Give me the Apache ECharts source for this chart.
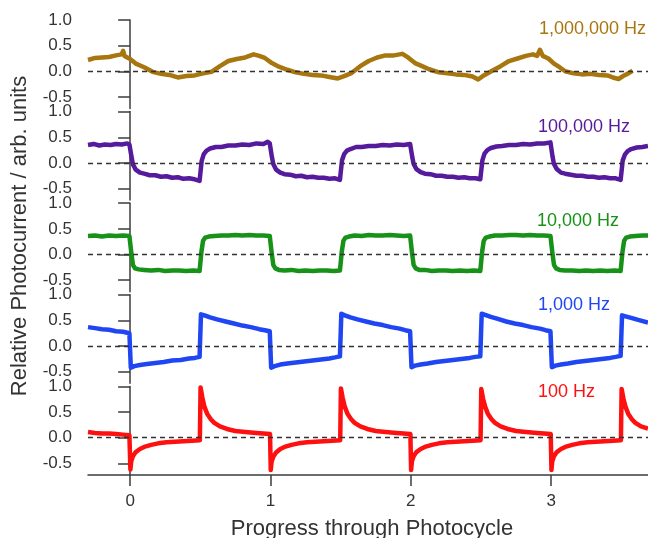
<!DOCTYPE html>
<html>
<head>
<meta charset="utf-8">
<script src="https://cdn.jsdelivr.net/npm/echarts@6/dist/echarts.min.js"></script>
<style>html,body{margin:0;padding:0;background:#fff;}#c{width:648px;height:538px;}</style>
</head>
<body>
<div id="c"></div>
<script>
// ---- data (x = progress through photocycle, y = relative photocurrent) ----
var panelLabels = ['1,000,000 Hz', '100,000 Hz', '10,000 Hz', '1,000 Hz', '100 Hz'];
var xTicks = [0, 1, 2, 3];
var yTicks = [-0.5, 0, 0.5, 1.0];

var trace1M = [
[-0.3,0.22],[-0.25,0.26],[-0.2,0.27],[-0.15,0.28],[-0.1,0.31],[-0.06,0.33],[-0.05,0.40],[-0.04,0.30],[0,0.24],[0.04,0.15],[0.1,0.08],[0.16,-0.01],[0.22,-0.05],[0.28,-0.07],[0.34,-0.12],[0.4,-0.09],[0.46,-0.08],[0.52,-0.04],[0.58,-0.01],[0.64,0.1],[0.7,0.2],[0.76,0.24],[0.82,0.27],[0.88,0.33],[0.92,0.30],[0.96,0.26],[1.01,0.16],[1.06,0.09],[1.12,0.03],[1.18,-0.02],[1.24,-0.05],[1.3,-0.07],[1.36,-0.08],[1.42,-0.11],[1.48,-0.14],[1.53,-0.09],[1.58,-0.03],[1.64,0.10],[1.7,0.2],[1.76,0.27],[1.82,0.31],[1.88,0.31],[1.94,0.34],[1.98,0.27],[2.03,0.16],[2.08,0.1],[2.13,0.04],[2.2,-0.02],[2.26,-0.04],[2.32,-0.06],[2.38,-0.07],[2.44,-0.1],[2.48,-0.16],[2.52,-0.08],[2.58,0.01],[2.64,0.10],[2.7,0.20],[2.76,0.25],[2.82,0.3],[2.87,0.33],[2.9,0.30],[2.92,0.42],[2.94,0.30],[2.98,0.25],[3.02,0.15],[3.06,0.08],[3.1,0.0],[3.16,-0.04],[3.22,-0.06],[3.28,-0.05],[3.34,-0.07],[3.4,-0.08],[3.44,-0.12],[3.48,-0.15],[3.52,-0.08],[3.55,-0.04],[3.58,0.01]
];

var trace100k = [
[-0.3,0.35],[-0.26,0.37],[-0.22,0.34],[-0.18,0.36],[-0.14,0.35],[-0.1,0.37],[-0.06,0.36],[-0.02,0.38],[-0.005,0.36],
[0.01,0.12],[0.02,-0.03],[0.04,-0.13],[0.07,-0.19],[0.1,-0.21],[0.14,-0.24],[0.18,-0.24],[0.22,-0.27],[0.26,-0.26],[0.3,-0.29],[0.34,-0.28],[0.38,-0.31],[0.42,-0.3],[0.46,-0.32],[0.495,-0.35],
[0.51,0.04],[0.525,0.17],[0.545,0.24],[0.57,0.28],[0.61,0.31],[0.65,0.31],[0.7,0.34],[0.75,0.34],[0.8,0.36],[0.85,0.35],[0.9,0.38],[0.95,0.37],[0.98,0.41],[0.995,0.38],
[1.01,0.12],[1.02,-0.02],[1.04,-0.13],[1.07,-0.19],[1.1,-0.22],[1.14,-0.23],[1.18,-0.26],[1.22,-0.25],[1.26,-0.28],[1.3,-0.27],[1.34,-0.29],[1.38,-0.29],[1.42,-0.31],[1.46,-0.3],[1.495,-0.33],
[1.51,0.05],[1.525,0.17],[1.545,0.24],[1.57,0.27],[1.61,0.31],[1.65,0.31],[1.7,0.33],[1.75,0.33],[1.8,0.35],[1.85,0.34],[1.9,0.36],[1.95,0.35],[1.995,0.37],
[2.01,0.12],[2.02,-0.02],[2.04,-0.12],[2.07,-0.18],[2.1,-0.21],[2.14,-0.22],[2.18,-0.25],[2.22,-0.25],[2.26,-0.27],[2.3,-0.27],[2.34,-0.29],[2.38,-0.28],[2.42,-0.3],[2.46,-0.3],[2.495,-0.32],
[2.51,0.05],[2.525,0.18],[2.545,0.25],[2.57,0.29],[2.61,0.32],[2.65,0.33],[2.7,0.35],[2.75,0.35],[2.8,0.37],[2.85,0.36],[2.9,0.38],[2.95,0.38],[2.995,0.4],
[3.01,0.12],[3.02,-0.02],[3.04,-0.12],[3.07,-0.19],[3.1,-0.21],[3.14,-0.23],[3.18,-0.25],[3.22,-0.25],[3.26,-0.27],[3.3,-0.27],[3.34,-0.29],[3.38,-0.28],[3.42,-0.3],[3.46,-0.3],[3.495,-0.33],
[3.51,0.05],[3.525,0.16],[3.545,0.23],[3.57,0.27],[3.61,0.3],[3.65,0.31],[3.69,0.33]
];

var trace10k = [
[-0.3,0.36],[-0.25,0.37],[-0.2,0.35],[-0.15,0.37],[-0.1,0.36],[-0.05,0.37],[-0.005,0.36],
[0.008,0.05],[0.02,-0.2],[0.035,-0.27],[0.06,-0.29],[0.1,-0.3],[0.15,-0.31],[0.2,-0.3],[0.25,-0.32],[0.3,-0.31],[0.35,-0.31],[0.4,-0.32],[0.45,-0.31],[0.495,-0.32],
[0.508,0.05],[0.52,0.27],[0.535,0.33],[0.56,0.35],[0.6,0.36],[0.65,0.37],[0.7,0.37],[0.75,0.38],[0.8,0.37],[0.85,0.38],[0.9,0.37],[0.95,0.37],[0.995,0.36],
[1.008,0.05],[1.02,-0.2],[1.035,-0.27],[1.06,-0.3],[1.1,-0.31],[1.15,-0.3],[1.2,-0.32],[1.25,-0.31],[1.3,-0.32],[1.35,-0.31],[1.4,-0.31],[1.45,-0.32],[1.495,-0.31],
[1.508,0.05],[1.52,0.27],[1.535,0.33],[1.56,0.35],[1.6,0.37],[1.65,0.36],[1.7,0.38],[1.75,0.37],[1.8,0.37],[1.85,0.38],[1.9,0.37],[1.95,0.36],[1.995,0.37],
[2.008,0.05],[2.02,-0.2],[2.035,-0.27],[2.06,-0.3],[2.1,-0.3],[2.15,-0.32],[2.2,-0.31],[2.25,-0.31],[2.3,-0.32],[2.35,-0.31],[2.4,-0.32],[2.45,-0.31],[2.495,-0.32],
[2.508,0.05],[2.52,0.27],[2.535,0.33],[2.56,0.35],[2.6,0.37],[2.65,0.37],[2.7,0.38],[2.75,0.38],[2.8,0.37],[2.85,0.38],[2.9,0.37],[2.95,0.37],[2.995,0.36],
[3.008,0.05],[3.02,-0.2],[3.035,-0.27],[3.06,-0.3],[3.1,-0.31],[3.15,-0.31],[3.2,-0.32],[3.25,-0.31],[3.3,-0.32],[3.35,-0.31],[3.4,-0.32],[3.45,-0.31],[3.495,-0.32],
[3.508,0.05],[3.52,0.27],[3.535,0.33],[3.56,0.35],[3.6,0.36],[3.65,0.37],[3.69,0.37]
];

var trace1k = [
[-0.3,0.37],[-0.25,0.35],[-0.2,0.33],[-0.15,0.32],[-0.1,0.29],[-0.05,0.28],[-0.005,0.25],
[0.005,-0.42],[0.03,-0.39],[0.07,-0.37],[0.12,-0.35],[0.18,-0.33],[0.24,-0.31],[0.3,-0.28],[0.36,-0.27],[0.42,-0.24],[0.46,-0.23],[0.495,-0.21],
[0.505,0.62],[0.53,0.6],[0.57,0.56],[0.62,0.52],[0.68,0.48],[0.74,0.44],[0.8,0.4],[0.86,0.37],[0.92,0.33],[0.96,0.31],[0.995,0.29],
[1.005,-0.42],[1.03,-0.39],[1.07,-0.36],[1.12,-0.34],[1.18,-0.32],[1.24,-0.3],[1.3,-0.28],[1.36,-0.26],[1.42,-0.24],[1.46,-0.22],[1.495,-0.2],
[1.505,0.63],[1.53,0.6],[1.57,0.56],[1.62,0.52],[1.68,0.48],[1.74,0.44],[1.8,0.41],[1.86,0.37],[1.92,0.34],[1.96,0.31],[1.995,0.29],
[2.005,-0.41],[2.03,-0.38],[2.07,-0.36],[2.12,-0.34],[2.18,-0.31],[2.24,-0.29],[2.3,-0.27],[2.36,-0.25],[2.42,-0.23],[2.46,-0.21],[2.495,-0.2],
[2.505,0.63],[2.53,0.61],[2.57,0.57],[2.62,0.53],[2.68,0.48],[2.74,0.44],[2.8,0.41],[2.86,0.37],[2.92,0.34],[2.96,0.31],[2.995,0.29],
[3.005,-0.41],[3.03,-0.38],[3.07,-0.36],[3.12,-0.34],[3.18,-0.31],[3.24,-0.29],[3.3,-0.27],[3.36,-0.25],[3.42,-0.23],[3.46,-0.21],[3.495,-0.19],
[3.505,0.6],[3.53,0.58],[3.57,0.55],[3.62,0.51],[3.69,0.46]
];

var trace100 = [
[-0.3,0.11],[-0.25,0.09],[-0.2,0.08],[-0.15,0.08],[-0.1,0.07],[-0.05,0.06],[-0.005,0.05],
[0.002,-0.62],[0.008,-0.46],[0.02,-0.36],[0.04,-0.28],[0.07,-0.22],[0.1,-0.18],[0.15,-0.14],[0.2,-0.11],[0.26,-0.09],[0.32,-0.08],[0.38,-0.07],[0.44,-0.06],[0.497,-0.05],
[0.502,0.98],[0.515,0.78],[0.53,0.6],[0.55,0.46],[0.575,0.36],[0.6,0.29],[0.64,0.22],[0.69,0.17],[0.75,0.13],[0.82,0.11],[0.9,0.09],[0.997,0.07],
[1.002,-0.63],[1.008,-0.47],[1.02,-0.37],[1.04,-0.29],[1.07,-0.22],[1.1,-0.18],[1.15,-0.14],[1.2,-0.11],[1.26,-0.09],[1.32,-0.08],[1.38,-0.07],[1.44,-0.06],[1.497,-0.05],
[1.502,0.96],[1.515,0.77],[1.53,0.6],[1.55,0.46],[1.575,0.36],[1.6,0.29],[1.64,0.22],[1.69,0.17],[1.75,0.13],[1.82,0.11],[1.9,0.09],[1.997,0.07],
[2.002,-0.63],[2.008,-0.46],[2.02,-0.36],[2.04,-0.28],[2.07,-0.22],[2.1,-0.18],[2.15,-0.14],[2.2,-0.11],[2.26,-0.09],[2.32,-0.08],[2.38,-0.07],[2.44,-0.06],[2.497,-0.05],
[2.502,0.95],[2.515,0.76],[2.53,0.6],[2.55,0.46],[2.575,0.36],[2.6,0.29],[2.64,0.22],[2.69,0.17],[2.75,0.13],[2.82,0.11],[2.9,0.09],[2.997,0.07],
[3.002,-0.63],[3.008,-0.46],[3.02,-0.36],[3.04,-0.28],[3.07,-0.22],[3.1,-0.18],[3.15,-0.14],[3.2,-0.11],[3.26,-0.09],[3.32,-0.08],[3.38,-0.07],[3.44,-0.06],[3.497,-0.05],
[3.502,0.95],[3.515,0.76],[3.53,0.6],[3.55,0.46],[3.575,0.36],[3.6,0.29],[3.64,0.22],[3.69,0.18]
];

var traces = [trace1M, trace100k, trace10k, trace1k, trace100];
var colors = ['#a8760f', '#561a9c', '#179117', '#1f46f2', '#ff1010'];

// ---- layout ----
var FONT = 'Liberation Sans, Arial, sans-serif';
var AX = '#3c3c3c';
var gridTop0 = 20, gridStep = 91.6, gridH = 88.5;
var labelPos = [[539, 30], [538, 128], [537, 222], [538, 306], [538, 393]];

var grids = [], xAxes = [], yAxes = [], series = [], graphics = [];
for (var i = 0; i < 5; i++) {
  grids.push({left: 88, width: 560, top: gridTop0 + i * gridStep, height: gridH});
  var last = (i === 4);
  xAxes.push({
    type: 'value', gridIndex: i, min: -0.3, max: 3.69,
    show: last,
    axisLine: {show: last, onZero: false, lineStyle: {color: AX, width: 1.5}},
    axisTick: {show: last, length: 11, lineStyle: {color: AX, width: 1.5}, customValues: xTicks},
    axisLabel: {show: last, margin: 18, fontSize: 17, color: '#333', fontFamily: FONT, customValues: xTicks,
                formatter: function (v) { return String(v); }},
    splitLine: {show: false}
  });
  yAxes.push({
    type: 'value', gridIndex: i, min: -0.725, max: 1.0,
    axisLine: {show: true, lineStyle: {color: AX, width: 1.5}},
    axisTick: {show: true, length: 12, lineStyle: {color: AX, width: 1.5}, customValues: yTicks},
    axisLabel: {show: true, margin: 16, fontSize: 17, color: '#333', fontFamily: FONT, customValues: yTicks,
                formatter: function (v) { return v.toFixed(1); }},
    splitLine: {show: false}
  });
  series.push({
    type: 'line', xAxisIndex: i, yAxisIndex: i, data: traces[i],
    showSymbol: false, symbol: 'none', smooth: false,
    lineStyle: {color: colors[i], width: 4.5, join: 'round'},
    markLine: {
      silent: true, symbol: 'none', label: {show: false}, animation: false,
      lineStyle: {color: '#333', width: 1.3, type: [5, 4]},
      data: [{yAxis: 0}]
    },
    z: 2
  });
  graphics.push({
    type: 'text', left: labelPos[i][0], top: labelPos[i][1] - 10,
    style: {text: panelLabels[i], fill: colors[i], font: '18px ' + FONT}
  });
}
graphics.push({
  type: 'text', x: 20, y: 236, rotation: Math.PI / 2,
  style: {text: 'Relative Photocurrent / arb. units', fill: '#333', font: '22px ' + FONT,
          textAlign: 'center', textVerticalAlign: 'middle'}
});
graphics.push({
  type: 'text', x: 372, y: 529,
  style: {text: 'Progress through Photocycle', fill: '#333', font: '22px ' + FONT,
          textAlign: 'center', textVerticalAlign: 'middle'}
});

var chart = echarts.init(document.getElementById('c'));
chart.setOption({
  animation: false,
  backgroundColor: '#fff',
  grid: grids, xAxis: xAxes, yAxis: yAxes, series: series, graphic: graphics
});
</script>
</body>
</html>
